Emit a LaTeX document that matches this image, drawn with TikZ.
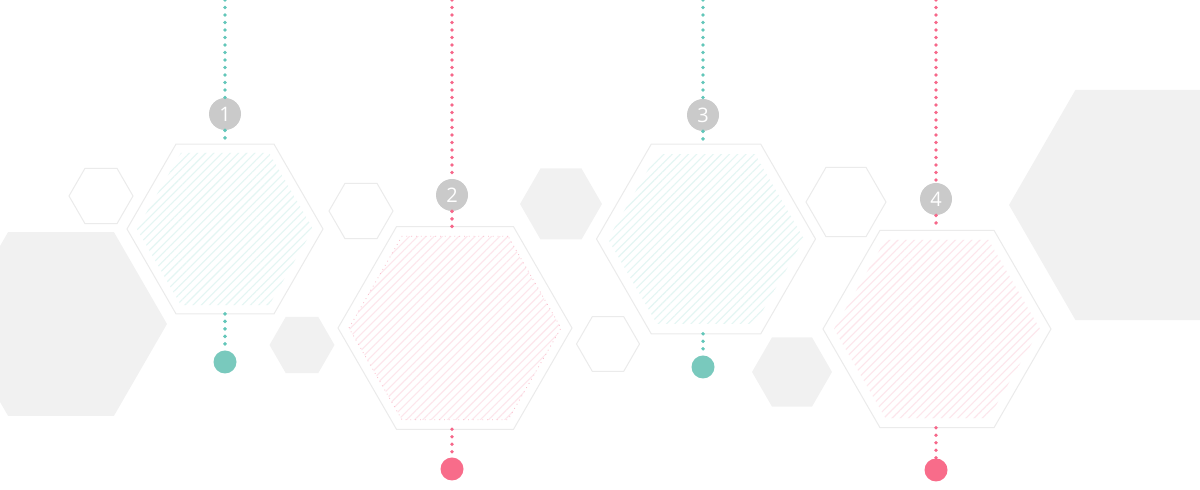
\documentclass[tikz,border=0pt]{standalone}
\usepackage{fontspec}
\setmainfont{Open Sans}
\usepackage{tikz}
\usetikzlibrary{shapes.geometric, patterns.meta}

\definecolor{hexgray}{HTML}{F1F1F1}
\definecolor{hexedge}{HTML}{EBEBEB}
\definecolor{tealline}{HTML}{62C6B9}
\definecolor{tealdot}{HTML}{79C9BD}
\definecolor{pinkline}{HTML}{F6678A}
\definecolor{pinkdot}{HTML}{F86C8A}
\definecolor{numgray}{HTML}{CACACA}
\definecolor{hatchteal}{HTML}{E4F6F3}
\definecolor{hatchpink}{HTML}{FDE6EC}

\tikzset{
  hexbase/.style={regular polygon, regular polygon sides=6, inner sep=0pt, outer sep=0pt, minimum size=#1},
  hexfill/.style={hexbase=#1, fill=hexgray},
  hexline/.style={hexbase=#1, draw=hexedge, line width=0.5pt, fill=white},
  hatchteal/.style={hexbase=#1, pattern={Lines[angle=45, distance=2.9pt, line width=0.55pt]}, pattern color=hatchteal},
  hatchpink/.style={hexbase=#1, pattern={Lines[angle=45, distance=2.9pt, line width=0.55pt]}, pattern color=hatchpink},
  hatchedge/.style={hexbase=#1, draw=pinkline!45, line width=0.4pt, dotted},
  numdot/.style={circle, fill=numgray, inner sep=0pt, minimum size=16pt, text=white, font=\fontsize{10}{12}\selectfont},
  enddot/.style={circle, fill=#1, inner sep=0pt, outer sep=0pt, minimum size=11.5pt},
  dotline/.style={draw=#1, line width=1.9pt, line cap=round, dash pattern=on 0pt off 3.75pt},
}

\begin{document}
\begin{tikzpicture}[x=0.5pt, y=-0.5pt]

    \useasboundingbox (0,0) rectangle (1200,490);

    % --- Background hexagons (filled) ---
    \node[hexfill=106pt] (bgleft) at (61,324) {};
    \node[hexfill=32.5pt] (bgsmallA) at (302,345) {};
    \node[hexfill=41pt] (bgsmallB) at (561,204) {};
    \node[hexfill=40pt] (bgsmallC) at (792,372) {};
    \node[hexfill=133pt] (bgright) at (1142,205) {};

    % --- Background hexagons (outline only) ---
    \node[hexline=32pt] (olA) at (101,196) {};
    \node[hexline=32pt] (olB) at (361,211) {};
    \node[hexline=31.5pt] (olC) at (608,344) {};
    \node[hexline=40pt] (olD) at (846,202) {};

    % --- Main hexagons ---
    \node[hexline=98pt] (hex1) at (225,229) {};
    \node[hatchteal=88pt] (hex1in) at (225,229) {};
    \node[hexline=117pt] (hex2) at (455,328) {};
    \node[hatchpink=106pt] (hex2in) at (455,328) {};
    \node[hatchedge=106pt] (hex2edge) at (455,328) {};
    \node[hexline=109.5pt] (hex3) at (706,239) {};
    \node[hatchteal=98pt] (hex3in) at (706,239) {};
    \node[hexline=114pt] (hex4) at (937,329) {};
    \node[hatchpink=103pt] (hex4in) at (937,329) {};

    % --- Step numbers ---
    \node[numdot] (num1) at (225,114) {1};
    \node[numdot] (num2) at (452,195) {2};
    \node[numdot] (num3) at (703,115) {3};
    \node[numdot] (num4) at (936,199) {4};

    % --- End dots ---
    \node[enddot=tealdot] (dot1) at (225,362) {};
    \node[enddot=pinkdot] (dot2) at (452,469) {};
    \node[enddot=tealdot] (dot3) at (703,367) {};
    \node[enddot=pinkdot] (dot4) at (936,470) {};

    % --- Top ends of the dotted lines ---
    \coordinate (top1) at (225,0);
    \coordinate (top2) at (452,0);
    \coordinate (top3) at (703,0);
    \coordinate (top4) at (936,0);

    % --- Dotted lines ---
    \draw[dotline=tealline] (top1) -- (num1);
    \draw[dotline=tealline] (num1) -- (num1 |- hex1.north);
    \draw[dotline=tealline] (num1 |- hex1.south) -- (dot1);

    \draw[dotline=pinkline] (top2) -- (num2);
    \draw[dotline=pinkline] (num2) -- (num2 |- hex2.north);
    \draw[dotline=pinkline] (num2 |- hex2.south) -- (dot2);

    \draw[dotline=tealline] (top3) -- (num3);
    \draw[dotline=tealline] (num3) -- (num3 |- hex3.north);
    \draw[dotline=tealline] (num3 |- hex3.south) -- (dot3);

    \draw[dotline=pinkline] (top4) -- (num4);
    \draw[dotline=pinkline] (num4) -- (num4 |- hex4.north);
    \draw[dotline=pinkline] (num4 |- hex4.south) -- (dot4);

\end{tikzpicture}
\end{document}
